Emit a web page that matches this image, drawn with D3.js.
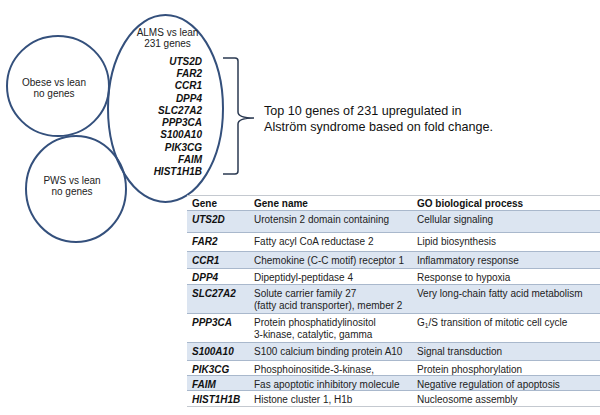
<!DOCTYPE html>
<html lang="en">
<head>
    <meta charset="UTF-8">
    <title>ALMS top genes</title>
    <script src="https://cdn.jsdelivr.net/npm/d3@7"></script>
    <style>
        body { margin: 0; background: #fff; }
        svg { font-family: "Liberation Sans", Arial, sans-serif; display: block; }
    </style>
</head>
<body>
<div id="chart"></div>
<script>
    // Venn sets (label lines)
    const vennSets = [
        { id: 'obese', lines: ['Obese vs lean', 'no genes'] },
        { id: 'pws',   lines: ['PWS vs lean', 'no genes'] },
        { id: 'alms',  lines: ['ALMS vs lean', '231 genes'] }
    ];

    // Top 10 genes
    const genes = ['UTS2D', 'FAR2', 'CCR1', 'DPP4', 'SLC27A2', 'PPP3CA', 'S100A10', 'PIK3CG', 'FAIM', 'HIST1H1B'];

    const geneNames = [
        ['Urotensin 2 domain containing'],
        ['Fatty acyl CoA reductase 2'],
        ['Chemokine (C-C motif) receptor 1'],
        ['Dipeptidyl-peptidase 4'],
        ['Solute carrier family 27', '(fatty acid transporter), member 2'],
        ['Protein phosphatidylinositol', '3-kinase, catalytic, gamma'],
        ['S100 calcium binding protein A10'],
        ['Phosphoinositide-3-kinase,'],
        ['Fas apoptotic inhibitory molecule'],
        ['Histone cluster 1, H1b']
    ];

    const goProcess = [
        'Cellular signaling',
        'Lipid biosynthesis',
        'Inflammatory response',
        'Response to hypoxia',
        'Very long-chain fatty acid metabolism',
        'G1/S transition of mitotic cell cycle',
        'Signal transduction',
        'Protein phosphorylation',
        'Negative regulation of apoptosis',
        'Nucleosome assembly'
    ];

    const headers = ['Gene', 'Gene name', 'GO biological process'];
    const braceNote = ['Top 10 genes of 231 upregulated in', 'Alstr\u00f6m syndrome based on fold change.'];

    const width = 600, height = 415;
    const svg = d3.select('#chart').append('svg')
        .attr('width', width)
        .attr('height', height);

    // ---- Venn ellipses ----
    const shapes = {
        obese: { cx: 58,    cy: 86,    rx: 51,   ry: 50,   ty: 82 },
        pws:   { cx: 76,    cy: 189,   rx: 50,   ry: 53,   ty: 180 },
        alms:  { cx: 165.5, cy: 108.5, rx: 57.5, ry: 93.5, ty: 32 }
    };

    const venn = svg.append('g').attr('class', 'venn');

    venn.selectAll('ellipse')
        .data(vennSets)
        .join('ellipse')
        .attr('cx', d => shapes[d.id].cx)
        .attr('cy', d => shapes[d.id].cy)
        .attr('rx', d => shapes[d.id].rx)
        .attr('ry', d => shapes[d.id].ry)
        .attr('fill', 'none')
        .attr('stroke', '#34507c')
        .attr('stroke-width', 2);

    vennSets.forEach(s => {
        const sh = shapes[s.id];
        venn.append('text')
            .attr('x', s.id === 'alms' ? sh.cx + 2 : sh.cx - 4)
            .attr('text-anchor', 'middle')
            .attr('font-size', 10)
            .attr('fill', '#222')
            .selectAll('tspan')
            .data(s.lines)
            .join('tspan')
            .attr('x', s.id === 'alms' ? sh.cx + 2 : sh.cx - 4)
            .attr('y', (d, i) => sh.ty + 3.5 + i * 11.5)
            .text(d => d);
    });

    // gene list inside ALMS ellipse
    const listY = d3.scaleLinear().domain([0, genes.length - 1]).range([65, 175]);
    venn.append('g')
        .selectAll('text')
        .data(genes)
        .join('text')
        .attr('x', 202)
        .attr('y', (d, i) => listY(i))
        .attr('text-anchor', 'end')
        .attr('font-size', 10)
        .attr('font-weight', 'bold')
        .attr('font-style', 'italic')
        .attr('fill', '#111')
        .text(d => d);

    // ---- curly brace ----
    const bx = 223, bTop = 58, bBot = 174, bMid = 118, bEdge = 238, bTip = 254;
    const brace = d3.path();
    brace.moveTo(bx, bTop);
    brace.lineTo(bEdge - 3, bTop);
    brace.quadraticCurveTo(bEdge, bTop, bEdge, bTop + 3);
    brace.lineTo(bEdge, bMid - 6);
    brace.quadraticCurveTo(bEdge, bMid, bTip, bMid);
    brace.quadraticCurveTo(bEdge, bMid, bEdge, bMid + 6);
    brace.lineTo(bEdge, bBot - 3);
    brace.quadraticCurveTo(bEdge, bBot, bEdge - 3, bBot);
    brace.lineTo(bx, bBot);
    svg.append('path')
        .attr('d', brace.toString())
        .attr('fill', 'none')
        .attr('stroke', '#2b3a52')
        .attr('stroke-width', 1.5);

    svg.append('text')
        .attr('font-size', 12.6)
        .attr('fill', '#111')
        .selectAll('tspan')
        .data(braceNote)
        .join('tspan')
        .attr('x', 264)
        .attr('y', (d, i) => 115 + i * 16)
        .text(d => d);

    // ---- table ----
    const colX = [192, 254, 417];
    const tableLeft = 187, tableRight = 600;
    const headTop = 195, headBottom = 210;
    const lineH = 12;
    // row height per number of text lines
    const rowPad = [22, 19, 17, 16, 29, 29, 18, 15, 15, 16];

    const rows = genes.map((g, i) => ({
        gene: g, name: geneNames[i], go: goProcess[i], shaded: i % 2 === 0
    }));
    let acc = headBottom;
    rows.forEach((r, i) => { r.top = acc; acc += rowPad[i]; r.bottom = acc; });

    const table = svg.append('g').attr('class', 'table');

    table.selectAll('rect.row')
        .data(rows.filter(r => r.shaded))
        .join('rect')
        .attr('class', 'row')
        .attr('x', tableLeft)
        .attr('y', d => d.top)
        .attr('width', tableRight - tableLeft)
        .attr('height', d => d.bottom - d.top)
        .attr('fill', '#dce5f1');

    const edges = [headTop, headBottom].concat(rows.map(r => r.bottom));
    table.selectAll('line.sep')
        .data(edges)
        .join('line')
        .attr('class', 'sep')
        .attr('x1', tableLeft)
        .attr('x2', tableRight)
        .attr('y1', d => d + 0.5)
        .attr('y2', d => d + 0.5)
        .attr('stroke', (d, i) => i === 0 || i === edges.length - 1 ? '#c4c9d0' : '#a9b8cc')
        .attr('stroke-width', 1);

    table.selectAll('text.head')
        .data(headers)
        .join('text')
        .attr('class', 'head')
        .attr('x', (d, i) => colX[i])
        .attr('y', headTop + 12)
        .attr('font-size', 10)
        .attr('font-weight', 'bold')
        .attr('fill', '#111')
        .text(d => d);

    const rowG = table.selectAll('g.r')
        .data(rows)
        .join('g')
        .attr('class', 'r');

    rowG.append('text')
        .attr('x', colX[0])
        .attr('y', d => d.top + 12.5)
        .attr('font-size', 10)
        .attr('font-weight', 'bold')
        .attr('font-style', 'italic')
        .attr('fill', '#111')
        .text(d => d.gene);

    rowG.append('text')
        .attr('font-size', 10)
        .attr('fill', '#222')
        .selectAll('tspan')
        .data(d => d.name.map((t, j) => ({ t, y: d.top + 12.5 + j * lineH })))
        .join('tspan')
        .attr('x', colX[1])
        .attr('y', d => d.y)
        .text(d => d.t);

    rowG.each(function (d) {
        const t = d3.select(this).append('text')
            .attr('x', colX[2])
            .attr('y', d.top + 12.5)
            .attr('font-size', 10)
            .attr('fill', '#222');
        if (d.go.startsWith('G1/S')) {
            t.append('tspan').text('G');
            t.append('tspan').attr('font-size', 6.5).attr('dy', 2).text('1');
            t.append('tspan').attr('dy', -2).text(d.go.slice(2));
        } else {
            t.text(d.go);
        }
    });
</script>
</body>
</html>
